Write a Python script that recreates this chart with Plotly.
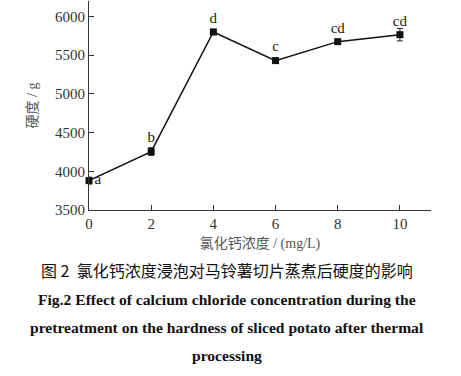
import plotly.graph_objects as go

conc = [0, 2, 4, 6, 8, 10]
hardness = [3880, 4255, 5800, 5430, 5675, 5765]
err = [45, 50, 35, 25, 25, 80]
letters = ["a", "b", "d", "c", "cd", "cd"]
letter_pos = ["middle right", "top center", "top center", "top center", "top center", "top center"]
x_ticks = [0, 2, 4, 6, 8, 10]
y_ticks = [3500, 4000, 4500, 5000, 5500, 6000]

serif = "Times New Roman, Liberation Serif, serif"
cjk = "Noto Sans CJK SC"
sspan = "<span style='font-family:Liberation Serif'>{}</span>"

fig = go.Figure()
fig.add_trace(go.Scatter(
    x=conc, y=hardness, mode="lines+markers+text",
    line=dict(color="#111", width=1.5),
    marker=dict(symbol="square", size=7, color="#111"),
    error_y=dict(type="data", array=err, visible=True, color="#222", thickness=1, width=3),
    text=letters, textposition=letter_pos,
    textfont=dict(family=serif, size=15, color="#222"),
    cliponaxis=False, showlegend=False, hoverinfo="skip",
))

fig.update_layout(
    width=461, height=376,
    margin=dict(l=89, r=30, t=1, b=166, autoexpand=False),
    plot_bgcolor="white", paper_bgcolor="white",
    font=dict(family=serif),
    xaxis=dict(range=[0, 11], tickvals=x_ticks, ticks="inside", ticklen=5, tickcolor="#333",
               showline=True, linecolor="#333", linewidth=1, showgrid=False, zeroline=False,
               automargin=False,
               tickfont=dict(family=serif, size=15, color="#333"),
               title=dict(text="氯化钙浓度" + sspan.format(" / (mg/L)"),
                          font=dict(family=cjk, size=14, color="#555"), standoff=6)),
    yaxis=dict(range=[3500, 6200], tickvals=y_ticks, ticks="inside", ticklen=5, tickcolor="#333",
               showline=True, linecolor="#333", linewidth=1, showgrid=False, zeroline=False,
               automargin=False,
               tickfont=dict(family=serif, size=15, color="#333"),
               title=dict(text="硬度" + sspan.format(" / g"),
                          font=dict(family=cjk, size=14, color="#555"), standoff=14)),
)

captions = [
    ("图 2  氯化钙浓度浸泡对马铃薯切片蒸煮后硬度的影响", cjk, 16, -60),
    ("<b>Fig.2 Effect of calcium chloride concentration during the</b>", serif, 15.6, -89),
    ("<b>pretreatment on the hardness of sliced potato after thermal</b>", serif, 15.6, -117),
    ("<b>processing</b>", serif, 15.6, -145),
]
for txt, fam, sz, ys in captions:
    fig.add_annotation(text=txt, xref="paper", yref="paper", x=(227 - 89) / 342, y=0,
                       xanchor="center", yanchor="middle", yshift=ys, showarrow=False,
                       font=dict(family=fam, size=sz, color="#111"))

fig.write_html("out.html", config={"displayModeBar": False},
               post_script="document.body.style.margin='0';")
